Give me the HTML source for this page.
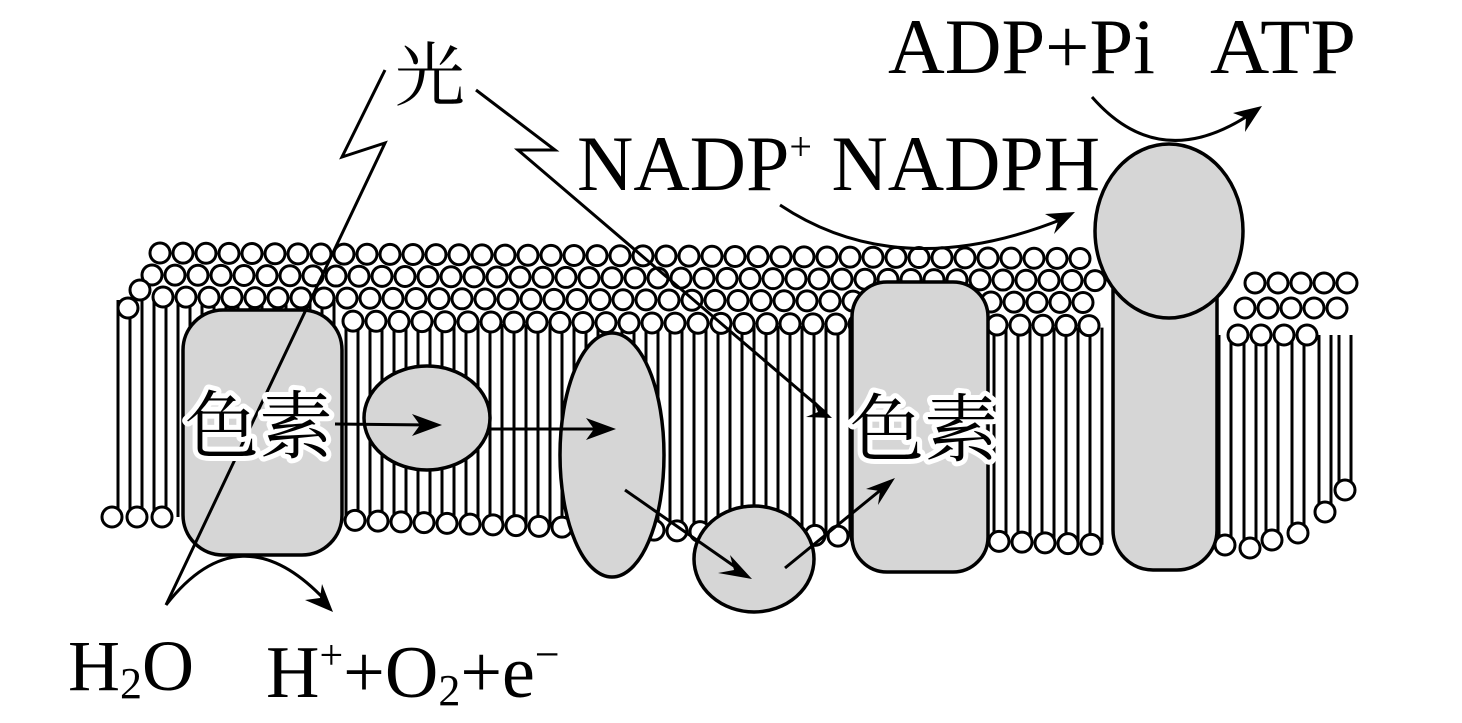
<!DOCTYPE html>
<html><head><meta charset="utf-8"><style>
html,body{margin:0;padding:0;background:#fff;}
svg{display:block;}
.t{font-family:"Liberation Serif","Noto Serif CJK SC",serif;fill:#000;}
.c{font-family:"Noto Serif CJK SC","Noto Sans CJK SC",serif;}
</style></head><body>
<svg id="s" width="1462" height="723" viewBox="0 0 1462 723" xmlns="http://www.w3.org/2000/svg">
<g id="tails" stroke="#000" stroke-width="3"></g>
<g id="heads" fill="#fff" stroke="#000" stroke-width="3"></g>
<g id="prot" fill="#d6d6d6" stroke="#000" stroke-width="3.5">
<rect x="183" y="310" width="159" height="245" rx="40"/>
<ellipse cx="427" cy="418" rx="63" ry="52"/>
<ellipse cx="612" cy="455" rx="52" ry="122"/>
<ellipse cx="754" cy="559" rx="60" ry="53"/>
<rect x="852" y="282" width="136" height="290" rx="35"/>
<rect x="1113" y="250" width="104" height="320" rx="40"/>
<ellipse cx="1169" cy="231" rx="74" ry="87"/>
</g>
<g fill="none" stroke="#000" stroke-width="3">
<polyline points="385,70 342,157 385,143 166,605"/>
<polyline points="476,90 555,150 518,150 826,413"/>
<line x1="335" y1="424" x2="432" y2="425"/>
<line x1="490" y1="429" x2="606" y2="429"/>
<line x1="625" y1="490" x2="744" y2="573"/>
<line x1="785" y1="568" x2="888" y2="484"/>
<path d="M780,205 Q900,285 1065,218"/>
<path d="M1092,97 Q1160,175 1252,113"/>
<path d="M166,605 Q240,510 325,600"/>
</g>
<g fill="#000">
<polygon points="832,418 812,398 818,412 806,417"/>
<polygon points="442,425 412,414 420,425 412,436"/>
<polygon points="616,429 586,418 594,429 586,440"/>
<polygon points="752,579 730,555 734,570 718,573"/>
<polygon points="895,478 866,489 880,491 878,505"/>
<polygon points="1075,212 1045,214 1058,221 1054,234"/>
<polygon points="1262,106 1233,113 1246,118 1245,132"/>
<polygon points="333,612 322,584 320,598 305,600"/>
</g>
<g class="t" font-size="78">
<text x="888" y="73" textLength="267" lengthAdjust="spacingAndGlyphs">ADP+Pi</text>
<text x="1210" y="73" textLength="146" lengthAdjust="spacingAndGlyphs">ATP</text>
<text x="577" y="190">NADP<tspan font-size="40" dy="-30">+</tspan><tspan dy="30"> NADPH</tspan></text>
<text x="68" y="690" font-size="72">H<tspan font-size="44" dy="8">2</tspan><tspan dy="-8">O</tspan></text>
<text x="266" y="697" font-size="74">H<tspan font-size="42" dy="-28">+</tspan><tspan dy="28">+O</tspan><tspan font-size="44" dy="8">2</tspan><tspan dy="-8">+e</tspan><tspan font-size="44" dy="-28">−</tspan></text>
<text x="395" y="100" class="c" font-size="70">光</text>
</g>
<g class="c" font-size="74" fill="#000" stroke="#fff" stroke-width="10" paint-order="stroke" stroke-linejoin="round">
<text x="185" y="452">色素</text>
<text x="850" y="455">色素</text>
</g>
</svg>
<script>
var NS="http://www.w3.org/2000/svg";
var H=document.getElementById('heads'),T=document.getElementById('tails');
function c(x,y){var e=document.createElementNS(NS,'circle');e.setAttribute('cx',x);e.setAttribute('cy',y);e.setAttribute('r',10);H.appendChild(e);}
function l(x,a,b){var e=document.createElementNS(NS,'line');e.setAttribute('x1',x);e.setAttribute('x2',x);e.setAttribute('y1',a);e.setAttribute('y2',b);T.appendChild(e);}
function sl(x){return (x-160)*0.006;}
function by(x){if(x<345)return 517;return 520+(x-345)*(25/765);}
for(var x=118;x<=1105;x+=12){var ty=x<345?300:322+sl(x);l(x,ty,by(x));}
var rb=[[1225,545],[1250,548],[1272,540],[1298,533],[1325,512],[1345,490]];
for(var i=0;i<rb.length;i++){l(rb[i][0]-6,335,rb[i][1]);l(rb[i][0]+6,335,rb[i][1]);}
for(var x=160;x<=1100;x+=23)c(x,253+sl(x));
for(var x=152;x<=1095;x+=23)c(x,275+sl(x));
for(var x=163;x<=1100;x+=23)c(x,297+sl(x));
for(var x=353;x<=1100;x+=23)c(x,320+sl(x));
c(140,290);c(128,308);
for(var x=1255;x<=1350;x+=23)c(x,283);
for(var x=1245;x<=1340;x+=23)c(x,308);
for(var x=1238;x<=1310;x+=23)c(x,335);
c(112,517);c(137,517);c(162,517);
for(var x=355;x<=1110;x+=23)c(x,by(x));
for(var i=0;i<rb.length;i++)c(rb[i][0],rb[i][1]);
</script>
</body></html>
